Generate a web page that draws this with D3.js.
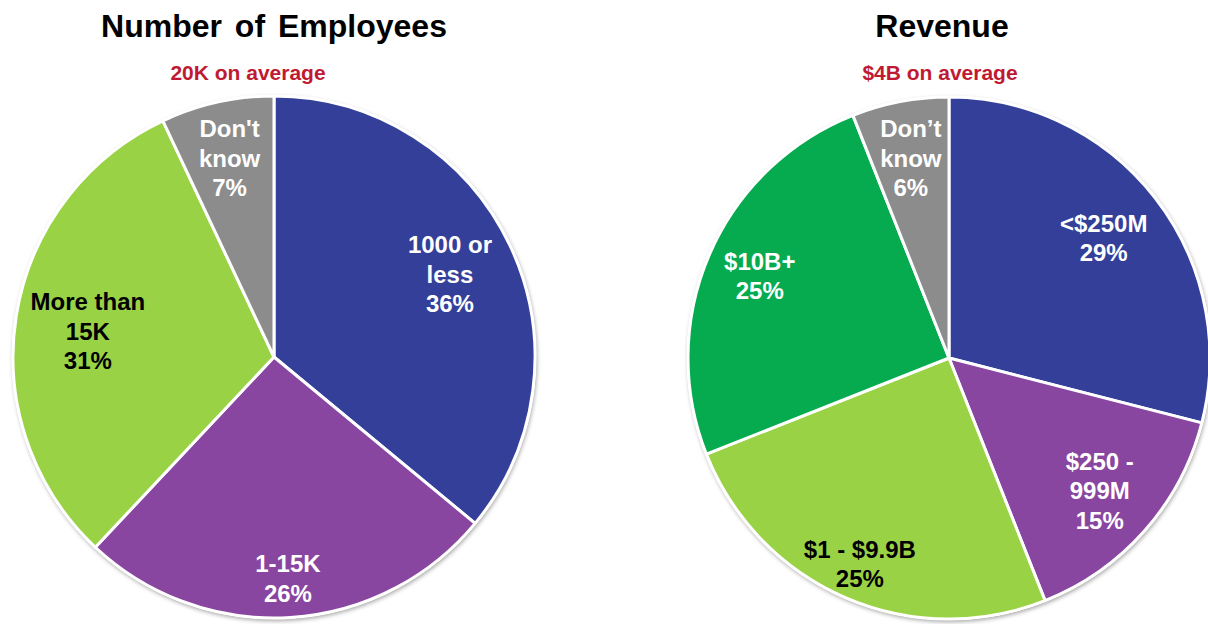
<!DOCTYPE html>
<html>
<head>
<meta charset="utf-8">
<script src="https://cdn.jsdelivr.net/npm/d3@7"></script>
<style>
  body { margin: 0; background: #fff; }
  svg { display: block; font-family: "Liberation Sans", Arial, sans-serif; }
</style>
</head>
<body>
<script>
// employee split
const empLabels = ["1000 or\nless", "1-15K", "More than\n15K", "Don't\nknow"];
const empValues = [36, 26, 31, 7];

// revenue split
const revLabels = ["<$250M", "$250 -\n999M", "$1 - $9.9B", "$10B+", "Don\u2019t\nknow"];
const revValues = [29, 15, 25, 25, 6];

const titles = ["Number of Employees", "Revenue"];
const subtitles = ["20K on average", "$4B on average"];

const width = 1208;
const height = 624;
const R = 261;

const blue = "#343f9a", purple = "#8946a0", lime = "#9ad246", green = "#06ab4f", grey = "#8c8c8c";

const charts = [
  { labels: empLabels, values: empValues, colors: [blue, purple, lime, grey],
    cx: 274, cy: 357, titleX: 274, subX: 248, labelR: [0.745, 0.85, 0.72, 0.78], labelRot: [0, 0, -1.2, 0] },
  { labels: revLabels, values: revValues, colors: [blue, purple, lime, green, grey],
    cx: 949, cy: 358, titleX: 942, subX: 940, labelR: [0.75, 0.77, 0.86, 0.79, 0.78], labelRot: [0, 0, 0, 0, 0] }
];

const svg = d3.select("body").append("svg")
  .attr("width", width)
  .attr("height", height);

let defs = svg.append("defs");
defs.append("filter")
    .attr("id", "shadow")
    .attr("x", "-10%").attr("y", "-10%")
    .attr("width", "120%").attr("height", "120%")
  .append("feDropShadow")
    .attr("dx", 1).attr("dy", 2)
    .attr("stdDeviation", 2)
    .attr("flood-color", "#000")
    .attr("flood-opacity", 0.35);

let pie = d3.pie().sort(null).value(d => d);
let arc = d3.arc().innerRadius(0).outerRadius(R);

charts.forEach((c, ci) => {
  svg.append("text")
    .attr("x", c.titleX)
    .attr("y", 37)
    .attr("text-anchor", "middle")
    .style("font-size", "32px")
    .style("font-weight", "bold")
    .style("word-spacing", ci == 0 ? "4px" : "0px")
    .text(titles[ci]);

  svg.append("text")
    .attr("x", c.subX)
    .attr("y", 80)
    .attr("text-anchor", "middle")
    .style("font-size", "21px")
    .style("font-weight", "bold")
    .attr("fill", "#c01a33")
    .text(subtitles[ci]);

  let g = svg.append("g").attr("transform", `translate(${c.cx},${c.cy})`);

  let arcs = pie(c.values);

  g.append("circle")
    .attr("r", R + 1)
    .attr("fill", "#fff")
    .attr("filter", "url(#shadow)");

  g.selectAll("path")
    .data(arcs)
    .enter()
    .append("path")
      .attr("d", arc)
      .attr("fill", (d, i) => c.colors[i])
      .attr("stroke", "#fff")
      .attr("stroke-width", 3)
      .attr("stroke-linejoin", "round");

  let labels = g.selectAll("text.lbl")
    .data(arcs)
    .enter()
    .append("text")
      .attr("class", "lbl")
      .attr("text-anchor", "middle")
      .style("font-size", "24px")
      .style("font-weight", "bold")
      .attr("fill", (d, i) => c.colors[i] == lime ? "#000" : "#fff")
      .attr("transform", (d, i) => {
        let r = R * c.labelR[i];
        let a = (d.startAngle + d.endAngle) / 2 + c.labelRot[i] * Math.PI / 180;
        return `translate(${r * Math.sin(a)},${-r * Math.cos(a)})`;
      });

  labels.each(function(d, i) {
    let lines = c.labels[i].split("\n").concat([d.value + "%"]);
    let lh = 29.5;
    let t = d3.select(this);
    lines.forEach((ln, k) => {
      t.append("tspan")
        .attr("x", 0)
        .attr("y", (k - (lines.length - 1) / 2) * lh + 8.5)
        .text(ln);
    });
  });
});
</script>
</body>
</html>
